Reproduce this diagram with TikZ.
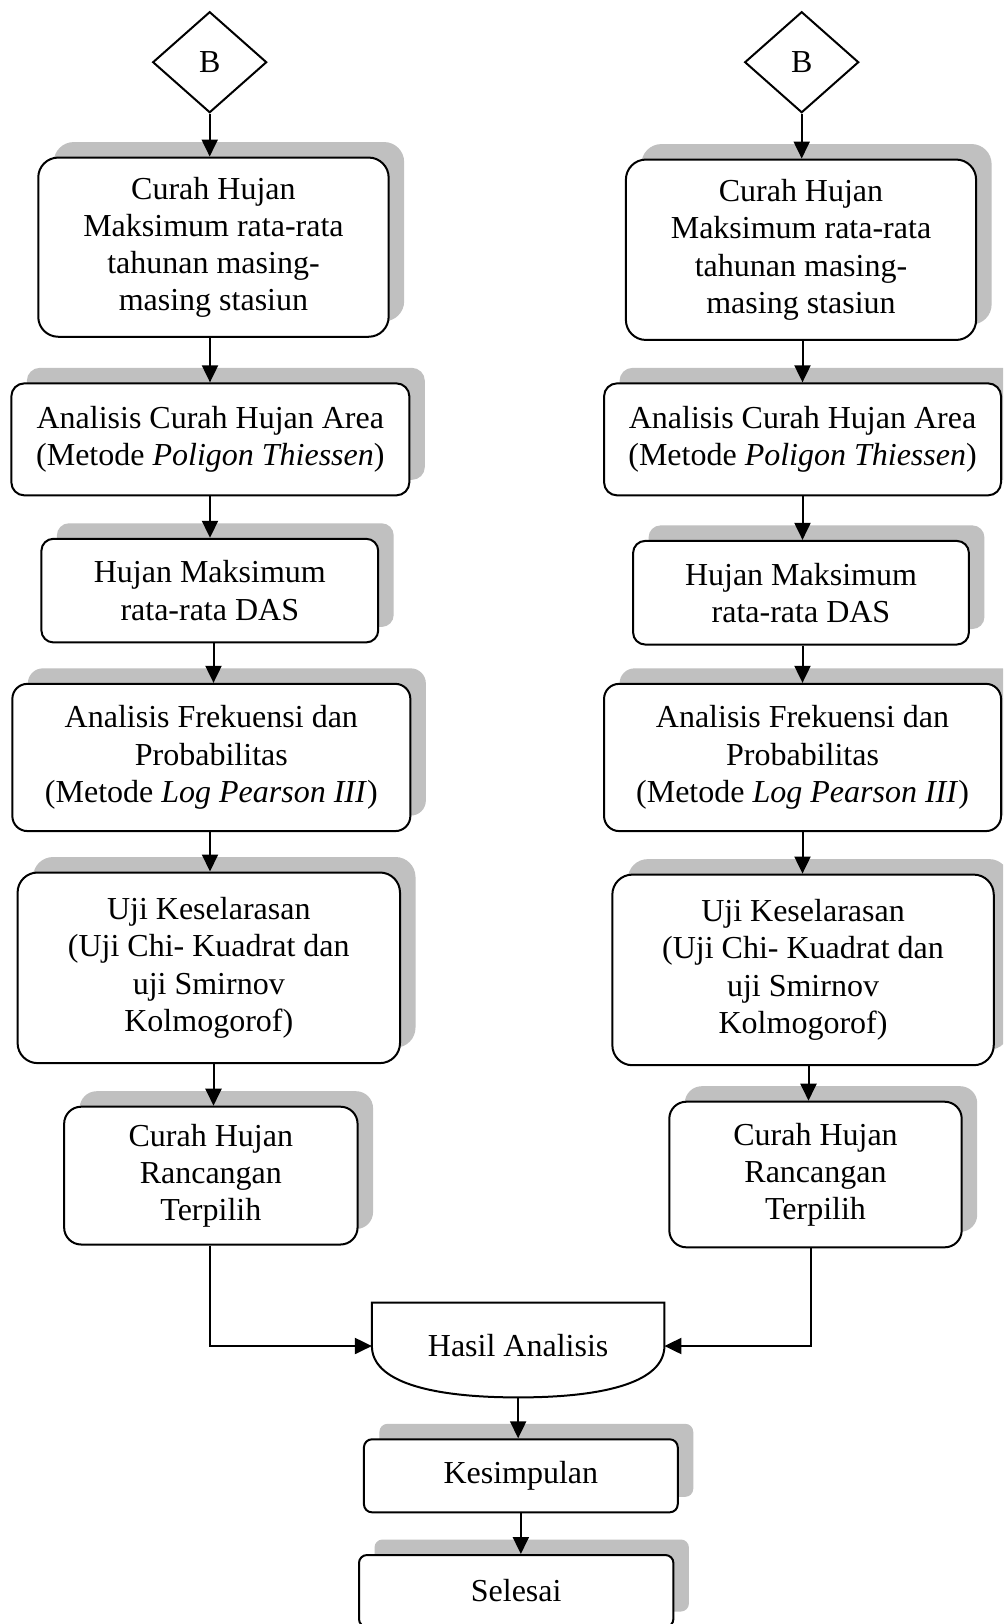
\documentclass[tikz,border=0pt]{standalone}
\usepackage{fontspec}
\setmainfont{Liberation Serif}
\usetikzlibrary{shapes.geometric,shadows,arrows.meta}
\definecolor{shadowgray}{RGB}{192,192,192}
\begin{document}
\begin{tikzpicture}[x=0.5pt,y=-0.5pt,
  txt/.style={font=\fontsize{16}{18.6}\selectfont, align=center},
  box/.style={txt, draw, line width=1pt, fill=white, inner sep=0pt, rectangle,
     drop shadow={shadow xshift=7.75pt, shadow yshift=7.75pt, fill=shadowgray, opacity=1, draw=none}},
  arr/.style={line width=1pt, -{Triangle[length=8.5pt,width=8pt]}},
  dia/.style={txt, draw, diamond, line width=1pt, inner sep=0pt, minimum width=57pt, minimum height=50.5pt}]
\clip (0,0) rectangle (1003,1624);
\fill[white] (0,0) rectangle (1003,1624);

% column coordinates for connectors
\coordinate (cL1) at (210,0);
\coordinate (cL2) at (213.5,0);
\coordinate (cR1) at (802.5,0);
\coordinate (cR2) at (808.5,0);
\coordinate (cR3) at (811,0);

% left column
\node[dia] (dL) at (209.7,62.2) {B};
\node[box, minimum width=175.2pt, minimum height=89.6pt, rounded corners=10pt] (L1) at (213.45,247.15)
  {Curah Hujan\\Maksimum rata-rata\\tahunan masing-\\masing stasiun};
\node[box, minimum width=199pt, minimum height=56pt, rounded corners=6.5pt] (L2) at (210.35,439.35)
  {Analisis Curah Hujan Area\\(Metode \textit{Poligon Thiessen})};
\node[box, minimum width=168.4pt, minimum height=51.8pt, rounded corners=6pt] (L3) at (209.8,590.6)
  {Hujan Maksimum\\rata-rata DAS};
\node[box, minimum width=199pt, minimum height=73.6pt, rounded corners=7.5pt] (L4) at (211.35,757.45)
  {Analisis Frekuensi dan\\Probabilitas\\(Metode \textit{Log Pearson III})};
\node[box, minimum width=191.2pt, minimum height=95.3pt, rounded corners=10pt] (L5) at (208.8,967.8)
  {Uji Keselarasan\\(Uji Chi- Kuadrat dan\\uji Smirnov\\Kolmogorof)};
\node[box, minimum width=146.7pt, minimum height=68.9pt, rounded corners=8.5pt] (L6) at (210.85,1175.6)
  {Curah Hujan\\Rancangan\\Terpilih};

% right column
\node[dia] (dR) at (801.7,62.2) {B};
\node[box, minimum width=175.1pt, minimum height=90.2pt, rounded corners=10pt] (R1) at (801,249.75)
  {Curah Hujan\\Maksimum rata-rata\\tahunan masing-\\masing stasiun};
\node[box, minimum width=198.5pt, minimum height=56pt, rounded corners=6.5pt] (R2) at (802.55,439.35)
  {Analisis Curah Hujan Area\\(Metode \textit{Poligon Thiessen})};
\node[box, minimum width=167.9pt, minimum height=51.8pt, rounded corners=6pt] (R3) at (801,592.7)
  {Hujan Maksimum\\rata-rata DAS};
\node[box, minimum width=198.5pt, minimum height=73.6pt, rounded corners=7.5pt] (R4) at (802.55,757.45)
  {Analisis Frekuensi dan\\Probabilitas\\(Metode \textit{Log Pearson III})};
\node[box, minimum width=190.7pt, minimum height=95.3pt, rounded corners=10pt] (R5) at (803.05,969.9)
  {Uji Keselarasan\\(Uji Chi- Kuadrat dan\\uji Smirnov\\Kolmogorof)};
\node[box, minimum width=146.2pt, minimum height=72.8pt, rounded corners=8.5pt] (R6) at (815.5,1174.5)
  {Curah Hujan\\Rancangan\\Terpilih};

% merge
\node[txt, minimum width=145.85pt, minimum height=43pt, inner sep=0pt] (hasil) at (518.15,1346) {Hasil Analisis};
\draw[line width=1pt] (hasil.west) -- (hasil.north west) -- (hasil.north east) -- (hasil.east)
  .. controls +(0,35) and +(90,0) .. ([yshift=-4pt]hasil.south)
  .. controls +(-90,0) and +(0,35) .. (hasil.west) -- cycle;

\node[box, minimum width=156.9pt, minimum height=36.5pt, rounded corners=4pt] (K) at (520.85,1475.8) {Kesimpulan};
\node[box, minimum width=157.2pt, minimum height=36pt, rounded corners=4pt] (S) at (516.2,1591) {Selesai};

% connectors left
\draw[arr] (dL.south) -- (dL.south |- L1.north);
\draw[arr] (L1.south -| cL1) -- (L2.north -| cL1);
\draw[arr] (L2.south -| cL1) -- (L3.north -| cL1);
\draw[arr] (L3.south -| cL2) -- (L4.north -| cL2);
\draw[arr] (L4.south -| cL1) -- (L5.north -| cL1);
\draw[arr] (L5.south -| cL2) -- (L6.north -| cL2);
\draw[arr] (L6.south -| cL1) |- (hasil.west);

% connectors right
\draw[arr] (dR.south) -- (dR.south |- R1.north);
\draw[arr] (R1.south -| cR1) -- (R2.north -| cR1);
\draw[arr] (R2.south -| cR1) -- (R3.north -| cR1);
\draw[arr] (R3.south -| cR1) -- (R4.north -| cR1);
\draw[arr] (R4.south -| cR1) -- (R5.north -| cR1);
\draw[arr] (R5.south -| cR2) -- (R6.north -| cR2);
\draw[arr] (R6.south -| cR3) |- (hasil.east);

% bottom
\draw[arr] ([yshift=-4pt]hasil.south) -- (hasil.south |- K.north);
\draw[arr] (K.south) -- (K.south |- S.north);
\end{tikzpicture}
\end{document}
